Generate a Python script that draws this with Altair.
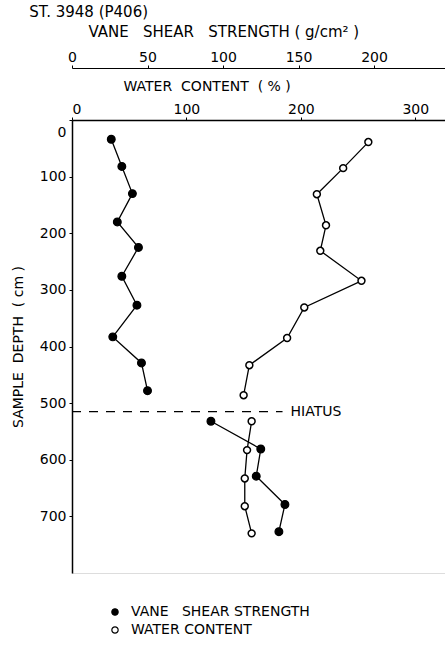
import altair as alt
import pandas as pd

FONT = "DejaVu Sans"
NB = "\u00a0"

# Core samples from station 3948 (P406)
section = ["upper"] * 10 + ["lower"] * 5

vane_depth = [34, 82, 130, 180, 225, 276, 327, 383, 429, 478, 532, 581, 629, 679, 727]
vane_strength = [26, 33, 40, 30, 44, 33, 43, 27, 46, 50, 92, 125, 122, 141, 137]

water_depth = [39, 85, 131, 186, 231, 284, 331, 385, 433, 486, 532, 583, 633, 682, 730]
water_content = [259, 237, 214, 222, 217, 253, 203, 188, 155, 150, 157, 153, 151, 151, 157]

depth_ticks = [0, 100, 200, 300, 400, 500, 600, 700]
vane_ticks = [0, 50, 100, 150, 200]
water_ticks = [0, 100, 200, 300]

hiatus_depth = 515
hiatus_end = 184      # water-content units
hiatus_label_at = 191

VANE = f"VANE{NB}{NB} SHEAR STRENGTH"
WATER = "WATER CONTENT"

vane_df = pd.DataFrame({"depth": vane_depth, "value": vane_strength,
                        "section": section, "series": VANE})
water_df = pd.DataFrame({"depth": water_depth, "value": water_content,
                         "section": section, "series": WATER})

common_axis = dict(grid=False, domainColor="black", tickColor="black",
                   labelColor="black", titleColor="black", labelFont=FONT,
                   titleFont=FONT, titleFontWeight="normal",
                   labelFontWeight="normal")

y_enc = alt.Y(
    "depth:Q",
    scale=alt.Scale(domain=[0, 800], reverse=True, nice=False, zero=False),
    axis=alt.Axis(
        values=depth_ticks, title=f"SAMPLE{NB} DEPTH{NB} ( cm )", titleFontSize=14,
        titlePadding=14, labelFontSize=14, labelPadding=3, tickSize=3,
        labelFlush=True, labelFlushOffset=-5, domainWidth=1.5, **common_axis,
    ),
)

fill_enc = alt.Fill(
    "series:N",
    scale=alt.Scale(domain=[VANE, WATER], range=["black", "white"]),
    legend=alt.Legend(
        title=None, orient="none", legendX=36, legendY=485,
        symbolType="circle", symbolSize=40, symbolStrokeColor="black",
        symbolStrokeWidth=1.2, labelFont=FONT, labelFontSize=14,
        labelColor="black", rowPadding=4, labelOffset=9, labelLimit=0,
    ),
)

water_x = alt.X(
    "value:Q",
    scale=alt.Scale(domain=[0, 326], nice=False, zero=False),
    axis=alt.Axis(
        orient="top", values=water_ticks,
        title=f"WATER{NB} CONTENT{NB} ( % )",
        titleFontSize=14, titleX=51, titleY=-34, titleAlign="left",
        titleAnchor="start", titleBaseline="middle",
        labelFontSize=14, labelPadding=1, tickSize=3, domainWidth=1.5,
        **common_axis,
    ),
)

vane_x = alt.X(
    "value:Q",
    scale=alt.Scale(domain=[0, 247], nice=False, zero=False),
    axis=alt.Axis(
        orient="top", offset=52, values=vane_ticks,
        title=f"VANE{NB}{NB} SHEAR{NB}{NB} STRENGTH ( g/cm² )",
        titleFontSize=15, titleX=16, titleY=-37, titleAlign="left",
        titleAnchor="start", titleBaseline="middle",
        labelFontSize=14, labelPadding=1, tickSize=3, domainWidth=1.2,
        labelFlush=False, **common_axis,
    ),
)

water_line = alt.Chart(water_df).mark_line(color="black", strokeWidth=1.3).encode(
    x=water_x, y=y_enc, detail="section:N", order="depth:Q"
)
water_pts = alt.Chart(water_df).mark_circle(
    size=48, stroke="black", strokeWidth=1.5, opacity=1
).encode(x=water_x, y=y_enc, fill=fill_enc)

hiatus_df = pd.DataFrame({"depth": [hiatus_depth], "start": [0], "end": [hiatus_end],
                          "label_at": [hiatus_label_at], "label": ["HIATUS"]})
hiatus_rule = alt.Chart(hiatus_df).mark_rule(
    color="black", strokeWidth=1.3, strokeDash=[9, 8]
).encode(x=alt.X("start:Q"), x2="end:Q", y="depth:Q")
hiatus_text = alt.Chart(hiatus_df).mark_text(
    align="left", baseline="middle", font=FONT, fontSize=14, color="black"
).encode(x=alt.X("label_at:Q"), y="depth:Q", text="label:N")

vane_line = alt.Chart(vane_df).mark_line(color="black", strokeWidth=1.3).encode(
    x=vane_x, y=y_enc, detail="section:N", order="depth:Q"
)
vane_pts = alt.Chart(vane_df).mark_circle(
    size=60, stroke="black", strokeWidth=1.2, opacity=1
).encode(x=vane_x, y=y_enc, fill=fill_enc)

water_layer = alt.layer(water_line, hiatus_rule, hiatus_text, water_pts)
vane_layer = alt.layer(vane_line, vane_pts)

chart = (
    alt.layer(water_layer, vane_layer)
    .resolve_scale(x="independent")
    .properties(
        width=373, height=453,
        autosize=alt.AutoSizeParams(type="none"),
        padding={"left": 72, "top": 120, "right": 0, "bottom": 72},
        title=alt.TitleParams("ST. 3948 (P406)", anchor="start", font=FONT,
                              fontSize=15, fontWeight="normal", color="black",
                              frame="bounds", dx=18, offset=4),
    )
    .configure_view(strokeWidth=0)
    .configure(background="white")
)

chart.save("out.html", embed_options={"renderer": "svg", "actions": False})
